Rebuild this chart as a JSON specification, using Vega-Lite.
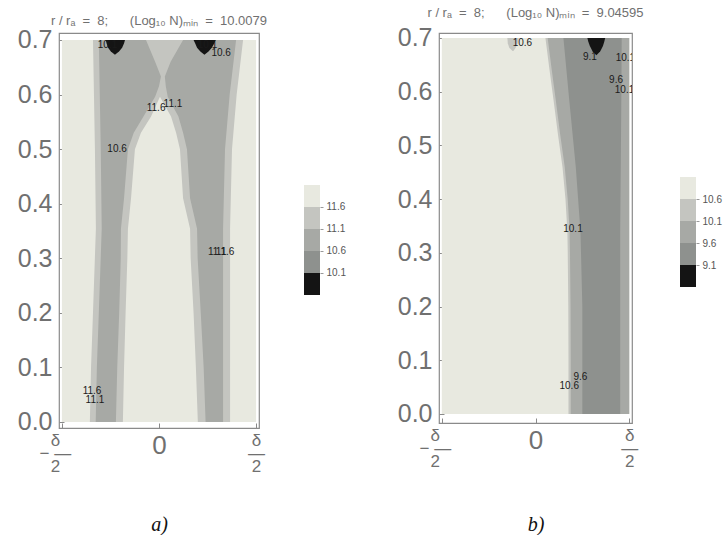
{
  "$schema": "https://vega.github.io/schema/vega-lite/v6.json",
  "background": "white",
  "padding": {"left": 16, "top": 6, "right": 3, "bottom": 0},
  "config": {
    "font": "Liberation Sans",
    "view": {"stroke": "#8a8a8a", "strokeWidth": 1.2},
    "title": {"fontSize": 13, "color": "#707070", "fontWeight": "normal", "font": "Liberation Sans"}
  },
  "datasets": {
    "a": [
      {"lvl": "c", "part": "bg", "y": 0, "x0": -0.5, "x1": 0.5},
      {"lvl": "c", "part": "bg", "y": 0.7, "x0": -0.5, "x1": 0.5},
      {"lvl": "l", "part": "env", "y": 0, "x0": -0.356, "x1": 0.366},
      {"lvl": "l", "part": "env", "y": 0.1, "x0": -0.35, "x1": 0.366},
      {"lvl": "l", "part": "env", "y": 0.2, "x0": -0.34, "x1": 0.366},
      {"lvl": "l", "part": "env", "y": 0.354, "x0": -0.325, "x1": 0.366},
      {"lvl": "l", "part": "env", "y": 0.5, "x0": -0.33, "x1": 0.376},
      {"lvl": "l", "part": "env", "y": 0.6, "x0": -0.335, "x1": 0.4},
      {"lvl": "l", "part": "env", "y": 0.7, "x0": -0.34, "x1": 0.433},
      {"lvl": "g", "part": "env", "y": 0, "x0": -0.326, "x1": 0.33},
      {"lvl": "g", "part": "env", "y": 0.1, "x0": -0.32, "x1": 0.33},
      {"lvl": "g", "part": "env", "y": 0.2, "x0": -0.31, "x1": 0.33},
      {"lvl": "g", "part": "env", "y": 0.354, "x0": -0.295, "x1": 0.33},
      {"lvl": "g", "part": "env", "y": 0.5, "x0": -0.3, "x1": 0.34},
      {"lvl": "g", "part": "env", "y": 0.6, "x0": -0.305, "x1": 0.364},
      {"lvl": "g", "part": "env", "y": 0.7, "x0": -0.31, "x1": 0.397},
      {"lvl": "m", "part": "mid", "y": 0, "x0": -0.222, "x1": 0.24},
      {"lvl": "m", "part": "mid", "y": 0.1, "x0": -0.215, "x1": 0.23},
      {"lvl": "m", "part": "mid", "y": 0.2, "x0": -0.205, "x1": 0.215},
      {"lvl": "m", "part": "mid", "y": 0.3, "x0": -0.197, "x1": 0.199},
      {"lvl": "m", "part": "mid", "y": 0.354, "x0": -0.196, "x1": 0.196},
      {"lvl": "m", "part": "mid", "y": 0.41, "x0": -0.18, "x1": 0.16},
      {"lvl": "m", "part": "mid", "y": 0.5, "x0": -0.16, "x1": 0.144},
      {"lvl": "m", "part": "mid", "y": 0.53, "x0": -0.13, "x1": 0.124},
      {"lvl": "m", "part": "mid", "y": 0.56, "x0": -0.08, "x1": 0.1},
      {"lvl": "m", "part": "mid", "y": 0.596, "x0": -0.02, "x1": 0.045},
      {"lvl": "m", "part": "mid", "y": 0.615, "x0": 0.0, "x1": 0.035},
      {"lvl": "m", "part": "mid", "y": 0.633, "x0": 0.01, "x1": 0.03},
      {"lvl": "m", "part": "mid", "y": 0.66, "x0": -0.02, "x1": 0.06},
      {"lvl": "m", "part": "mid", "y": 0.7, "x0": -0.067, "x1": 0.124},
      {"lvl": "h", "part": "hole", "y": 0, "x0": -0.186, "x1": 0.2},
      {"lvl": "h", "part": "hole", "y": 0.1, "x0": -0.18, "x1": 0.19},
      {"lvl": "h", "part": "hole", "y": 0.2, "x0": -0.172, "x1": 0.178},
      {"lvl": "h", "part": "hole", "y": 0.3, "x0": -0.163, "x1": 0.163},
      {"lvl": "h", "part": "hole", "y": 0.354, "x0": -0.16, "x1": 0.16},
      {"lvl": "h", "part": "hole", "y": 0.41, "x0": -0.144, "x1": 0.124},
      {"lvl": "h", "part": "hole", "y": 0.5, "x0": -0.124, "x1": 0.108},
      {"lvl": "h", "part": "hole", "y": 0.53, "x0": -0.093, "x1": 0.088},
      {"lvl": "h", "part": "hole", "y": 0.56, "x0": -0.041, "x1": 0.062},
      {"lvl": "h", "part": "hole", "y": 0.596, "x0": 0.005, "x1": 0.005},
      {"lvl": "k", "part": "L", "y": 0.673, "x0": -0.227, "x1": -0.227},
      {"lvl": "k", "part": "L", "y": 0.679, "x0": -0.248, "x1": -0.206},
      {"lvl": "k", "part": "L", "y": 0.686, "x0": -0.262, "x1": -0.19},
      {"lvl": "k", "part": "L", "y": 0.694, "x0": -0.27, "x1": -0.18},
      {"lvl": "k", "part": "L", "y": 0.7, "x0": -0.274, "x1": -0.175},
      {"lvl": "k", "part": "R", "y": 0.673, "x0": 0.234, "x1": 0.234},
      {"lvl": "k", "part": "R", "y": 0.679, "x0": 0.213, "x1": 0.255},
      {"lvl": "k", "part": "R", "y": 0.686, "x0": 0.196, "x1": 0.272},
      {"lvl": "k", "part": "R", "y": 0.694, "x0": 0.186, "x1": 0.285},
      {"lvl": "k", "part": "R", "y": 0.7, "x0": 0.178, "x1": 0.292}
    ],
    "b": [
      {"lvl": "c", "part": "bg", "y": 0, "x0": -0.5, "x1": 0.5},
      {"lvl": "c", "part": "bg", "y": 0.7, "x0": -0.5, "x1": 0.5},
      {"lvl": "l", "part": "env", "y": 0, "x0": 0.176, "x1": 0.5},
      {"lvl": "l", "part": "env", "y": 0.1, "x0": 0.176, "x1": 0.5},
      {"lvl": "l", "part": "env", "y": 0.2, "x0": 0.175, "x1": 0.5},
      {"lvl": "l", "part": "env", "y": 0.3, "x0": 0.172, "x1": 0.5},
      {"lvl": "l", "part": "env", "y": 0.34, "x0": 0.17, "x1": 0.5},
      {"lvl": "l", "part": "env", "y": 0.4, "x0": 0.16, "x1": 0.5},
      {"lvl": "l", "part": "env", "y": 0.46, "x0": 0.144, "x1": 0.5},
      {"lvl": "l", "part": "env", "y": 0.52, "x0": 0.12, "x1": 0.5},
      {"lvl": "l", "part": "env", "y": 0.585, "x0": 0.096, "x1": 0.5},
      {"lvl": "l", "part": "env", "y": 0.64, "x0": 0.075, "x1": 0.5},
      {"lvl": "l", "part": "env", "y": 0.7, "x0": 0.053, "x1": 0.5},
      {"lvl": "l", "part": "blob", "y": 0.676, "x0": -0.122, "x1": -0.118},
      {"lvl": "l", "part": "blob", "y": 0.682, "x0": -0.14, "x1": -0.106},
      {"lvl": "l", "part": "blob", "y": 0.69, "x0": -0.148, "x1": -0.095},
      {"lvl": "l", "part": "blob", "y": 0.7, "x0": -0.15, "x1": -0.09},
      {"lvl": "g", "part": "env", "y": 0, "x0": 0.188, "x1": 0.5},
      {"lvl": "g", "part": "env", "y": 0.1, "x0": 0.188, "x1": 0.5},
      {"lvl": "g", "part": "env", "y": 0.2, "x0": 0.187, "x1": 0.5},
      {"lvl": "g", "part": "env", "y": 0.3, "x0": 0.184, "x1": 0.5},
      {"lvl": "g", "part": "env", "y": 0.34, "x0": 0.182, "x1": 0.5},
      {"lvl": "g", "part": "env", "y": 0.4, "x0": 0.172, "x1": 0.5},
      {"lvl": "g", "part": "env", "y": 0.46, "x0": 0.156, "x1": 0.5},
      {"lvl": "g", "part": "env", "y": 0.52, "x0": 0.132, "x1": 0.5},
      {"lvl": "g", "part": "env", "y": 0.585, "x0": 0.108, "x1": 0.5},
      {"lvl": "g", "part": "env", "y": 0.64, "x0": 0.087, "x1": 0.5},
      {"lvl": "g", "part": "env", "y": 0.7, "x0": 0.065, "x1": 0.5},
      {"lvl": "d", "part": "env", "y": 0, "x0": 0.25, "x1": 0.452},
      {"lvl": "d", "part": "env", "y": 0.2, "x0": 0.25, "x1": 0.452},
      {"lvl": "d", "part": "env", "y": 0.34, "x0": 0.24, "x1": 0.452},
      {"lvl": "d", "part": "env", "y": 0.46, "x0": 0.215, "x1": 0.455},
      {"lvl": "d", "part": "env", "y": 0.585, "x0": 0.18, "x1": 0.458},
      {"lvl": "d", "part": "env", "y": 0.7, "x0": 0.149, "x1": 0.46},
      {"lvl": "k", "part": "B", "y": 0.668, "x0": 0.325, "x1": 0.325},
      {"lvl": "k", "part": "B", "y": 0.675, "x0": 0.305, "x1": 0.345},
      {"lvl": "k", "part": "B", "y": 0.685, "x0": 0.29, "x1": 0.36},
      {"lvl": "k", "part": "B", "y": 0.693, "x0": 0.282, "x1": 0.367},
      {"lvl": "k", "part": "B", "y": 0.7, "x0": 0.277, "x1": 0.372}
    ],
    "ta": [
      {"lab": "10.1", "x": -0.265, "y": 0.69},
      {"lab": "10.1", "x": 0.25, "y": 0.69},
      {"lab": "10.6", "x": 0.32, "y": 0.676},
      {"lab": "11.6", "x": -0.015, "y": 0.576},
      {"lab": "11.1", "x": 0.072, "y": 0.582},
      {"lab": "10.6", "x": -0.216, "y": 0.5},
      {"lab": "11.1", "x": 0.3, "y": 0.312},
      {"lab": "11.6", "x": 0.34, "y": 0.312},
      {"lab": "11.6", "x": -0.345, "y": 0.057},
      {"lab": "11.1", "x": -0.33, "y": 0.04}
    ],
    "tb": [
      {"lab": "10.6", "x": -0.07, "y": 0.69},
      {"lab": "9.1", "x": 0.29, "y": 0.664},
      {"lab": "10.1", "x": 0.48, "y": 0.662},
      {"lab": "9.6", "x": 0.43, "y": 0.622},
      {"lab": "10.1", "x": 0.475, "y": 0.604},
      {"lab": "10.1", "x": 0.2, "y": 0.345},
      {"lab": "9.6", "x": 0.24, "y": 0.068},
      {"lab": "10.6", "x": 0.18, "y": 0.053}
    ],
    "la": [
      {"lo": 9.6, "hi": 10.1, "lvl": "k"},
      {"lo": 10.1, "hi": 10.6, "lvl": "d"},
      {"lo": 10.6, "hi": 11.1, "lvl": "g"},
      {"lo": 11.1, "hi": 11.6, "lvl": "l"},
      {"lo": 11.6, "hi": 12.1, "lvl": "c"}
    ],
    "lb": [
      {"lo": 8.6, "hi": 9.1, "lvl": "k"},
      {"lo": 9.1, "hi": 9.6, "lvl": "d"},
      {"lo": 9.6, "hi": 10.1, "lvl": "g"},
      {"lo": 10.1, "hi": 10.6, "lvl": "l"},
      {"lo": 10.6, "hi": 11.1, "lvl": "c"}
    ]
  },
  "hconcat": [
    {
      "bounds": "flush",
      "spacing": 45,
      "hconcat": [
        {
          "title": {"text": "r / rₐ\u00a0 = \u00a08;\u00a0\u00a0\u00a0\u00a0\u00a0\u00a0(Log₁₀ N)ₘᵢₙ\u00a0 = \u00a010.0079", "offset": 0},
          "width": 200,
          "height": 395,
          "layer": [
            {
              "data": {"name": "a"},
              "encoding": {
                "y": {"field": "y", "type": "quantitative", "scale": {"domain": [-0.011, 0.7128], "nice": false, "zero": false},
                  "axis": {"values": [0, 0.1, 0.2, 0.3, 0.4, 0.5, 0.6, 0.7], "format": ".1f", "labelFontSize": 25, "labelColor": "#707070", "tickSize": -5, "tickColor": "#8a8a8a", "labelPadding": 12, "title": null, "domain": false, "grid": false}},
                "x": {"field": "x0", "type": "quantitative", "scale": {"domain": [-0.515, 0.515], "nice": false, "zero": false},
                  "axis": {"values": [-0.5, 0, 0.5], "labelExpr": "datum.value < -0.1 ? ['\u00a0\u00a0\u00a0δ', '−\u00a0—', '\u00a0\u00a0\u00a02'] : (datum.value > 0.1 ? ['δ', '—', '2'] : '0')", "labelFontSize": {"condition": {"test": "datum.value === 0", "value": 26}, "value": 17}, "labelOffset": {"condition": {"test": "datum.value < -0.1", "value": -7}, "value": 0}, "labelLineHeight": 13, "labelColor": "#707070", "tickSize": -5, "tickColor": "#8a8a8a", "labelPadding": 9, "labelFlush": false, "labelOverlap": false, "title": "a)", "titleFont": "Liberation Serif", "titleFontStyle": "italic", "titleFontWeight": "normal", "titleFontSize": 20, "titleColor": "#111111", "titlePadding": 40, "domain": false, "grid": false}},
                "x2": {"field": "x1"},
                "detail": {"field": "part"},
                "color": {"field": "lvl", "type": "nominal", "legend": null,
                  "scale": {"domain": ["c", "l", "g", "m", "h", "d", "k"], "range": ["#e8e9e0", "#c4c5c0", "#a7a9a5", "#c4c5c0", "#e8e9e0", "#8e918e", "#141414"]}}
              },
              "layer": [
                {"transform": [{"filter": "datum.lvl === 'c'"}], "mark": {"type": "area", "orient": "horizontal"}},
                {"transform": [{"filter": "datum.lvl === 'l'"}], "mark": {"type": "area", "orient": "horizontal"}},
                {"transform": [{"filter": "datum.lvl === 'g'"}], "mark": {"type": "area", "orient": "horizontal"}},
                {"transform": [{"filter": "datum.lvl === 'm'"}], "mark": {"type": "area", "orient": "horizontal"}},
                {"transform": [{"filter": "datum.lvl === 'h'"}], "mark": {"type": "area", "orient": "horizontal"}},
                {"transform": [{"filter": "datum.lvl === 'k'"}], "mark": {"type": "area", "orient": "horizontal"}}
              ]
            },
            {
              "data": {"name": "ta"},
              "mark": {"type": "text", "fontSize": 10, "color": "#1a1a1a", "clip": true},
              "encoding": {
                "x": {"field": "x", "type": "quantitative"},
                "y": {"field": "y", "type": "quantitative"},
                "text": {"field": "lab"}
              }
            }
          ]
        },
        {
          "width": 16,
          "height": 395,
          "view": {"stroke": null},
          "data": {"name": "la"},
          "mark": {"type": "rect"},
          "encoding": {
            "y": {"field": "lo", "type": "quantitative", "scale": {"domain": [6.577, 15.5545], "nice": false, "zero": false},
              "axis": {"orient": "right", "values": [10.1, 10.6, 11.1, 11.6], "format": ".1f", "labelFontSize": 10, "labelColor": "#555555", "tickSize": 3, "tickColor": "#999999", "labelPadding": 3, "domain": false, "grid": false, "title": null}},
            "y2": {"field": "hi"},
            "color": {"field": "lvl", "type": "nominal", "legend": null,
              "scale": {"domain": ["c", "l", "g", "m", "h", "d", "k"], "range": ["#e8e9e0", "#c4c5c0", "#a7a9a5", "#c4c5c0", "#e8e9e0", "#8e918e", "#141414"]}}
          }
        }
      ]
    },
    {
      "bounds": "flush",
      "spacing": 48,
      "hconcat": [
        {
          "title": {"text": "r / rₐ\u00a0 = \u00a08;\u00a0\u00a0\u00a0\u00a0\u00a0\u00a0(Log₁₀ N)ₘᵢₙ\u00a0 = \u00a09.04595", "offset": 6},
          "width": 193,
          "height": 390,
          "layer": [
            {
              "data": {"name": "b"},
              "encoding": {
                "y": {"field": "y", "type": "quantitative", "scale": {"domain": [-0.0168, 0.7093], "nice": false, "zero": false},
                  "axis": {"values": [0, 0.1, 0.2, 0.3, 0.4, 0.5, 0.6, 0.7], "format": ".1f", "labelFontSize": 25, "labelColor": "#707070", "tickSize": -5, "tickColor": "#8a8a8a", "labelPadding": 12, "title": null, "domain": false, "grid": false}},
                "x": {"field": "x0", "type": "quantitative", "scale": {"domain": [-0.515, 0.515], "nice": false, "zero": false},
                  "axis": {"values": [-0.5, 0, 0.5], "labelExpr": "datum.value < -0.1 ? ['\u00a0\u00a0\u00a0δ', '−\u00a0—', '\u00a0\u00a0\u00a02'] : (datum.value > 0.1 ? ['δ', '—', '2'] : '0')", "labelFontSize": {"condition": {"test": "datum.value === 0", "value": 26}, "value": 17}, "labelOffset": {"condition": {"test": "datum.value < -0.1", "value": -7}, "value": 0}, "labelLineHeight": 13, "labelColor": "#707070", "tickSize": -5, "tickColor": "#8a8a8a", "labelPadding": 9, "labelFlush": false, "labelOverlap": false, "title": "b)", "titleFont": "Liberation Serif", "titleFontStyle": "italic", "titleFontWeight": "normal", "titleFontSize": 20, "titleColor": "#111111", "titlePadding": 45, "domain": false, "grid": false}},
                "x2": {"field": "x1"},
                "detail": {"field": "part"},
                "color": {"field": "lvl", "type": "nominal", "legend": null,
                  "scale": {"domain": ["c", "l", "g", "m", "h", "d", "k"], "range": ["#e8e9e0", "#c4c5c0", "#a7a9a5", "#c4c5c0", "#e8e9e0", "#8e918e", "#141414"]}}
              },
              "layer": [
                {"transform": [{"filter": "datum.lvl === 'c'"}], "mark": {"type": "area", "orient": "horizontal"}},
                {"transform": [{"filter": "datum.lvl === 'l'"}], "mark": {"type": "area", "orient": "horizontal"}},
                {"transform": [{"filter": "datum.lvl === 'g'"}], "mark": {"type": "area", "orient": "horizontal"}},
                {"transform": [{"filter": "datum.lvl === 'd'"}], "mark": {"type": "area", "orient": "horizontal"}},
                {"transform": [{"filter": "datum.lvl === 'k'"}], "mark": {"type": "area", "orient": "horizontal"}}
              ]
            },
            {
              "data": {"name": "tb"},
              "mark": {"type": "text", "fontSize": 10, "color": "#1a1a1a", "clip": true},
              "encoding": {
                "x": {"field": "x", "type": "quantitative"},
                "y": {"field": "y", "type": "quantitative"},
                "text": {"field": "lab"}
              }
            }
          ]
        },
        {
          "width": 16,
          "height": 390,
          "view": {"stroke": null},
          "data": {"name": "lb"},
          "mark": {"type": "rect"},
          "encoding": {
            "y": {"field": "lo", "type": "quantitative", "scale": {"domain": [5.509, 14.373], "nice": false, "zero": false},
              "axis": {"orient": "right", "values": [9.1, 9.6, 10.1, 10.6], "format": ".1f", "labelFontSize": 10, "labelColor": "#555555", "tickSize": 3, "tickColor": "#999999", "labelPadding": 3, "domain": false, "grid": false, "title": null}},
            "y2": {"field": "hi"},
            "color": {"field": "lvl", "type": "nominal", "legend": null,
              "scale": {"domain": ["c", "l", "g", "m", "h", "d", "k"], "range": ["#e8e9e0", "#c4c5c0", "#a7a9a5", "#c4c5c0", "#e8e9e0", "#8e918e", "#141414"]}}
          }
        }
      ]
    }
  ],
  "spacing": 50
}
